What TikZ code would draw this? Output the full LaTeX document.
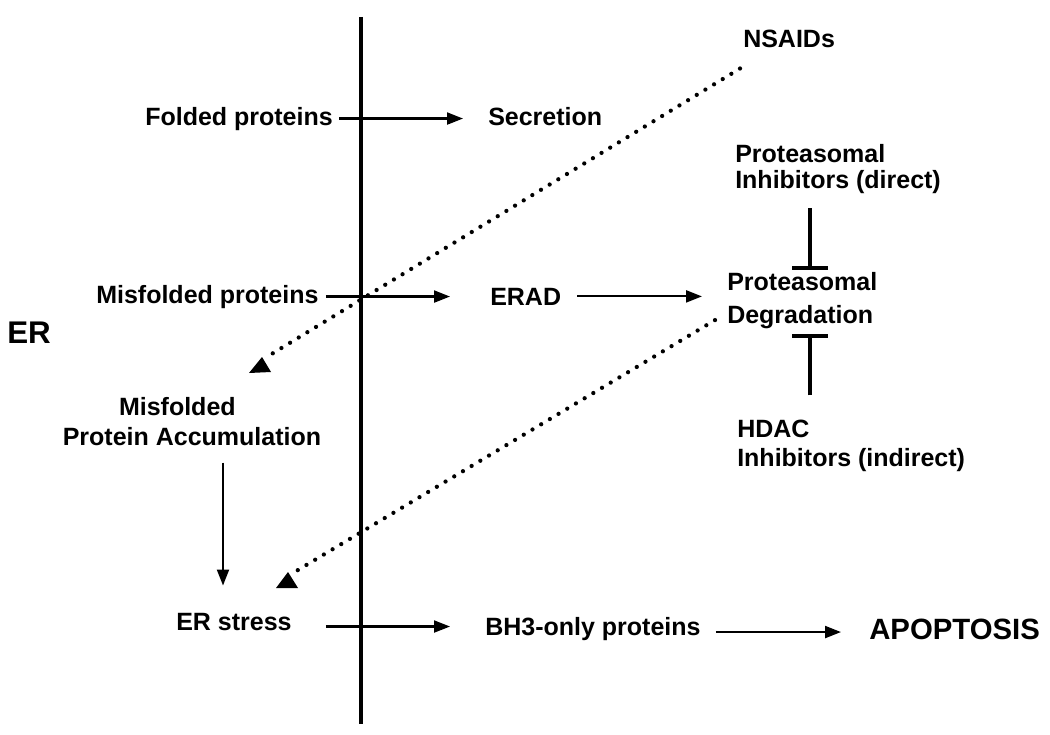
\documentclass[tikz,border=0pt]{standalone}
\usepackage{fontspec}
\setmainfont{Liberation Sans}
\usetikzlibrary{arrows.meta,calc}
\begin{document}
\begin{tikzpicture}[x=0.75pt,y=-0.75pt,
  lbl/.style={font=\fontsize{18.75pt}{22.5pt}\selectfont\bfseries, inner sep=0pt, align=left, anchor=base west},
  big/.style={font=\fontsize{22pt}{25pt}\selectfont\bfseries, inner sep=0pt, anchor=base west},
  arr/.style={line width=1.6pt, -{Triangle[length=12pt,width=9pt]}},
  dots/.style={line width=3.2pt, line cap=round, dash pattern=on 0pt off 7.6pt},
  inhib/.style={line width=3pt, -{Bar[width=27pt]}},
  membrane/.style={line width=3.4pt},
  head/.style={fill=black}]
\useasboundingbox (0,0) rectangle (1050,735);
\fill[white] (0,0) rectangle (1050,735);

% membrane
\draw[membrane] (361,17) -- (361,724);

% labels (multi-line nodes: base = baseline of last line)
\node[big, font=\fontsize{23.5pt}{26pt}\selectfont\bfseries] (er) at (7,343) {ER};
\node[lbl] (nsaid) at (743,48) {NSAIDs};
\node[lbl] (fold) at (145,125) {Folded proteins};
\node[lbl] (secr) at (488,126) {Secretion};
\node[lbl] (pinh) at (735,188) {Proteasomal\\[-3pt]Inhibitors (direct)};
\node[lbl] (misf) at (96,303) {Misfolded proteins};
\node[lbl] (erad) at (490,305) {ERAD};
\node[lbl] (pdeg) at (727,323) {Proteasomal\\[2.25pt]Degradation};
\node[lbl] (hdac) at (737,466) {HDAC\\[-0.75pt]Inhibitors (indirect)};
\node[lbl, align=center, anchor=base] (accum) at (192,445) {Misfolded\hspace*{22pt}\\Protein Accumulation};
\node[lbl] (stress) at (176,630) {ER stress};
\node[lbl] (bh3) at (485,635) {BH3-only proteins};
\node[big] (apo) at (869,639) {APOPTOSIS};

% solid arrows
\draw[arr] ($(fold.east)+(6,0)$) -- ($(fold.east -| secr.west)+(-25,0)$);
\draw[arr] ($(misf.east)+(7,0)$) -- ($(misf.east -| erad.west)+(-40,0)$);
\draw[arr] ($(erad.east)+(16,0)$) -- ($(erad.east -| pdeg.west)+(-25,0)$);
\coordinate (a1) at ($(accum.south)+(31,17)$);
\draw[arr] (a1) -- ($(a1 |- stress.north)+(0,-27)$);
\draw[arr] ($(stress.east)+(34,5)$) -- ($(stress.east -| bh3.west)+(-35,5)$);
\draw[arr] ($(bh3.east)+(15,3.5)$) -- ($(bh3.east -| apo.west)+(-28,3.5)$);

% dotted arrows
\coordinate (t1) at (262,357);
\draw[dots] ($(nsaid.south west)+(-3,20)$) -- ($(t1)+(8,-2)$);
\fill[head] (t1) -- ++(-13,16) -- ++(22,-1) -- cycle;
\coordinate (t2) at (288,572);
\draw[dots] ($(pdeg.west)+(-12,20)$) -- ($(t2)+(5,1)$);
\fill[head] (t2) -- ++(-12,16) -- ++(22,0) -- cycle;

% inhibition
\coordinate (i1) at ($(pinh.south west)+(75,15)$);
\draw[inhib] (i1) -- ($(i1 |- pdeg.north)+(0,-2)$);
\coordinate (i2) at ($(hdac.north west)+(73,-24)$);
\draw[inhib] (i2) -- ($(i2 |- pdeg.south)+(0,5)$);
\end{tikzpicture}
\end{document}
